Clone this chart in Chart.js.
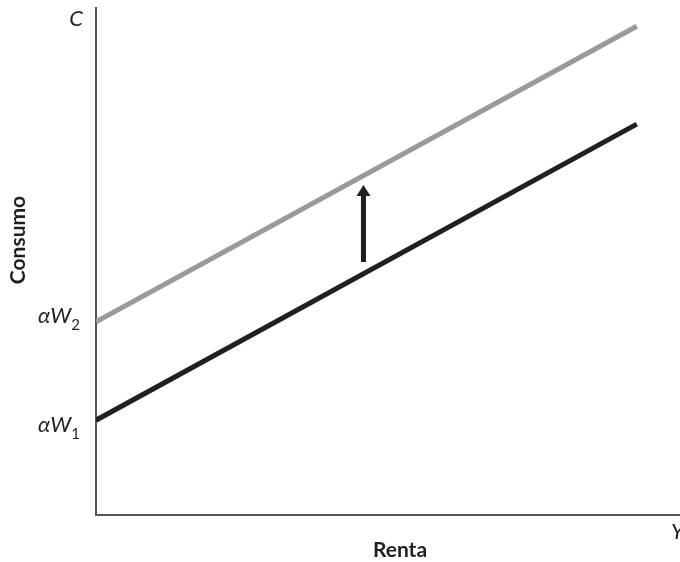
<!DOCTYPE html>
<html><head><meta charset="utf-8">
<script src="https://cdn.jsdelivr.net/npm/chart.js@4.4.1/dist/chart.umd.min.js"></script>
<style>html,body{margin:0;padding:0;background:#fff;}canvas{display:block;}</style>
</head><body>
<canvas id="c" width="680" height="562"></canvas>
<script>
// Data (abstract units: x 0..100 renta, y 0..100 consumo)
const rentaX = [0, 92.6];
const consumoW1 = [18.7, 77.1];   // C = αW1 + c·Y
const consumoW2 = [38.1, 96.4];   // C = αW2 + c·Y
const interceptValues = [18.7, 38.1];
const interceptLabels = ['1', '2'];
const arrowX = [45.8];
const arrowFrom = [49.9];
const arrowTo = [65.1];
const axisTitles = {x: 'Renta', y: 'Consumo'};
const axisEnds = {x: 'Y', y: 'C'};

const FONT = 'Lato, "Open Sans", sans-serif';

const overlay = {
  id: 'overlay',
  afterDatasetsDraw(chart) {
    const {ctx, scales: {x, y}} = chart;
    ctx.save();
    // arrow
    const ax = x.getPixelForValue(arrowX[0]);
    const ay0 = y.getPixelForValue(arrowFrom[0]);
    const ay1 = y.getPixelForValue(arrowTo[0]);
    ctx.fillStyle = '#231f20';
    ctx.fillRect(ax - 2.5, ay1 + 9, 5, ay0 - ay1 - 9);
    ctx.beginPath();
    ctx.moveTo(ax, ay1);
    ctx.lineTo(ax + 7, ay1 + 11);
    ctx.lineTo(ax - 7, ay1 + 11);
    ctx.closePath();
    ctx.fill();

    // intercept labels αW1, αW2
    ctx.fillStyle = '#231f20';
    ctx.textBaseline = 'alphabetic';
    const offs = [12, 1];
    interceptValues.forEach((v, i) => {
      const py = y.getPixelForValue(v) + offs[i];
      ctx.font = 'italic 22px ' + FONT;
      ctx.textAlign = 'left';
      ctx.fillText('αW', 38, py);
      const w = ctx.measureText('αW').width;
      ctx.font = '15px ' + FONT;
      ctx.fillText(interceptLabels[i], 38 + w, py + 7);
    });

    // axis end labels
    ctx.font = 'italic 22px ' + FONT;
    ctx.textAlign = 'center';
    ctx.fillText(axisEnds.y, 76, 26);
    ctx.textAlign = 'left';
    ctx.fillText(axisEnds.x, 671, 539);

    // axis titles
    ctx.font = 'bold 21px ' + FONT;
    ctx.textAlign = 'center';
    ctx.fillText(axisTitles.x, 400, 557);
    ctx.save();
    ctx.translate(25, 240);
    ctx.rotate(-Math.PI / 2);
    ctx.fillText(axisTitles.y, 0, 0);
    ctx.restore();
    ctx.restore();
  }
};

new Chart(document.getElementById('c'), {
  type: 'scatter',
  data: {
    datasets: [
      {
        data: rentaX.map((v, i) => ({x: v, y: consumoW2[i]})),
        showLine: true, borderColor: '#9a9a9a', borderWidth: 5,
        pointRadius: 0, borderCapStyle: 'butt'
      },
      {
        data: rentaX.map((v, i) => ({x: v, y: consumoW1[i]})),
        showLine: true, borderColor: '#231f20', borderWidth: 5,
        pointRadius: 0, borderCapStyle: 'butt'
      }
    ]
  },
  options: {
    responsive: false,
    animation: false,
    layout: {padding: {left: 88, right: 0, top: 8, bottom: 39}},
    plugins: {legend: {display: false}, tooltip: {enabled: false}},
    scales: {
      x: {
        type: 'linear', min: 0, max: 100,
        grid: {display: false},
        ticks: {display: false},
        border: {display: true, color: '#555', width: 2}
      },
      y: {
        type: 'linear', min: 0, max: 100,
        grid: {display: false},
        ticks: {display: false},
        border: {display: true, color: '#555', width: 2}
      }
    }
  },
  plugins: [overlay]
});
</script>
</body></html>
